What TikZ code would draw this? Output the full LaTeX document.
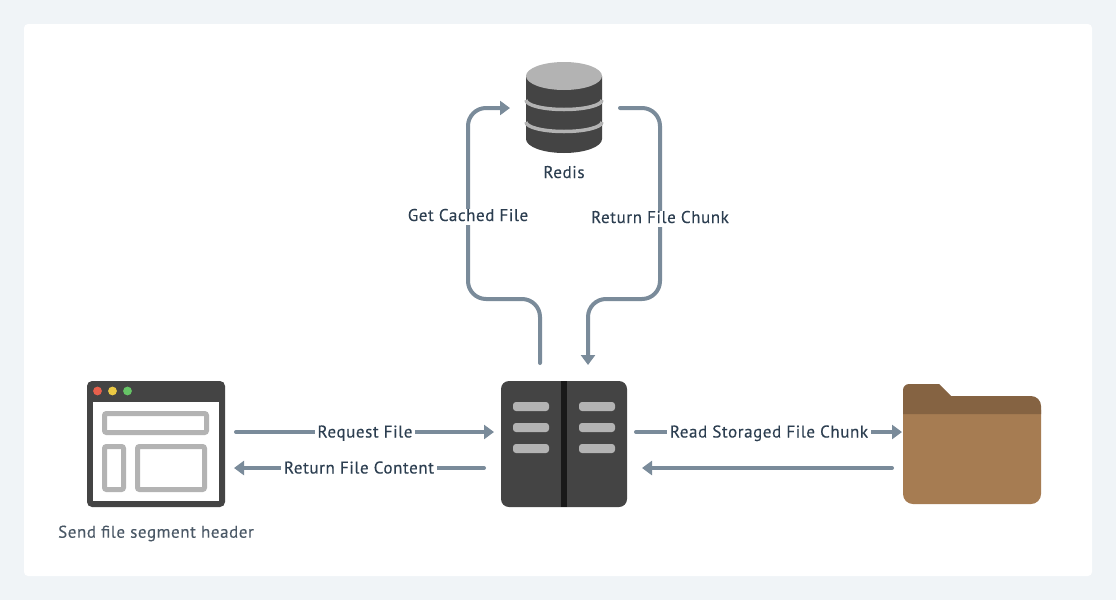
\documentclass[tikz,border=0pt]{standalone}
\usepackage{fontspec}
\setmainfont{PT Sans}[LetterSpace=3.4,FakeBold=0.15]
\usepackage{tikz}
\usetikzlibrary{positioning}
\usetikzlibrary{calc}
\usetikzlibrary{arrows.meta}
\definecolor{pagebg}{HTML}{F0F4F7}
\definecolor{flowcol}{HTML}{7A8B9A}
\definecolor{textcol}{HTML}{2C3E50}
\definecolor{captioncol}{HTML}{4A5866}
\definecolor{darkgrey}{HTML}{444444}
\definecolor{midgrey}{HTML}{B3B3B3}
\definecolor{folderbody}{HTML}{A67C52}
\definecolor{foldertab}{HTML}{856342}
\definecolor{dotred}{HTML}{E8604C}
\definecolor{dotyellow}{HTML}{EBC944}
\definecolor{dotgreen}{HTML}{66C466}
\tikzset{
  icon/.style={inner sep=0pt,outer sep=0pt,minimum width=#1},
  flow/.style={draw=flowcol,line width=4pt,line cap=round,rounded corners=18pt},
  flowto/.style={flow,-{Triangle[length=10pt,width=14pt]}},
  flowlabel/.style={fill=white,sharp corners,inner xsep=3pt,inner ysep=0pt,text height=12pt,text depth=4pt,text=textcol,font=\fontsize{17}{19}\selectfont},
  frame/.style={draw=midgrey,line width=5pt,rounded corners=2pt},
  pill/.style={fill=midgrey,rounded corners=3pt}
}
\begin{document}
\begin{tikzpicture}[x=1pt,y=-1pt]
\useasboundingbox (0,0) rectangle (1116,600);
\fill[pagebg] (0,0) rectangle (1116,600);
\fill[white,rounded corners=4pt] (24,24) rectangle (1092,576);

% anchors of the four icons
\node (browser) at (156,444) [icon=138pt,minimum height=126pt] {};
\node (server) at (564,444) [icon=126pt,minimum height=126pt] {};
\node (redis) at (564,108) [icon=76pt,minimum height=92pt] {};
\node (folder) at (972,444) [icon=138pt,minimum height=120pt] {};

% browser
\fill[darkgrey,rounded corners=5pt] (87,381) rectangle (225,507);
\fill[white] (93,402) rectangle (219,501);
\fill[dotred] (97.5,391) circle (4.4pt);
\fill[dotyellow] (112.5,391) circle (4.4pt);
\fill[dotgreen] (127.5,391) circle (4.4pt);
\draw[frame] (104.5,413.5) rectangle (206.5,432.5);
\draw[frame] (104.5,446.5) rectangle (123.5,489.5);
\draw[frame] (137.5,446.5) rectangle (204.5,489.5);

% server
\fill[darkgrey,rounded corners=8pt] (501,381) rectangle (627,507);
\fill[black!90] (561,381) rectangle (567,507);
\foreach \px in {513,579}
  \foreach \py in {402,423,444}
    \fill[pill] (\px,\py) rectangle +(36,9);

% redis
\fill[darkgrey] (526,76) -- (526,139) arc[start angle=180,end angle=360,x radius=38pt,y radius=14pt] -- (602,76) -- cycle;
\fill[midgrey] (564,76) ellipse (38pt and 14pt);
\draw[midgrey,line width=3.5pt] (526,100) arc[start angle=180,end angle=360,x radius=38pt,y radius=9.5pt];
\draw[midgrey,line width=3.5pt] (526,122) arc[start angle=180,end angle=360,x radius=38pt,y radius=9.5pt];

% folder
\fill[folderbody,rounded corners=10pt] (903,400) rectangle (1041,504);
\fill[foldertab,rounded corners=6pt] (903,414) -- (903,384) [sharp corners] -- (939,384) -- (951,396) [rounded corners=10pt] -- (1041,396) [sharp corners] -- (1041,414) -- cycle;

% connectors
\coordinate (getlow) at (468,299);
\coordinate (retlow) at (660,299);
\coordinate (getstart) at ([xshift=-24pt,yshift=18pt]server.north);
\coordinate (retend) at ([xshift=24pt,yshift=16pt]server.north);
\draw[flowto] (getstart) -- (getstart |- getlow) -- (getlow) -- (getlow |- redis.west) -- ([xshift=-16pt]redis.west);
\draw[flowto] ([xshift=18pt]redis.east) -- (retlow |- redis.east) -- (retlow) -- (retend |- retlow) -- (retend);
\draw[flowto] ([xshift=11pt,yshift=12pt]browser.east) -- ([xshift=-7pt,yshift=12pt]server.west) node[flowlabel,midway,yshift=-1.5pt] (reqlabel) {Request File};
\draw[flowto] ([xshift=-17pt,yshift=-24pt]server.west) -- ([xshift=9pt,yshift=-24pt]browser.east) node[flowlabel,midway,yshift=-1.5pt] (backlabel) {Return File Content};
\draw[flowto] ([xshift=9pt,yshift=12pt]server.east) -- ([xshift=-1pt,yshift=12pt]folder.west) node[flowlabel,midway,yshift=-1.5pt] (readlabel) {Read Storaged File Chunk};
\draw[flowto] ([xshift=-11pt,yshift=-24pt]folder.west) -- ([xshift=15pt,yshift=-24pt]server.east);
\node[flowlabel] (getlabel) at (468,217) {Get Cached File};
\node[flowlabel] (retlabel) at (660,219) {Return File Chunk};

% captions
\node[flowlabel,fill=none] (redislabel) at (564,174) {Redis};
\node[flowlabel,fill=none,text=captioncol] (browserlabel) at (156,533.7) {Send file segment header};
\end{tikzpicture}
\end{document}
